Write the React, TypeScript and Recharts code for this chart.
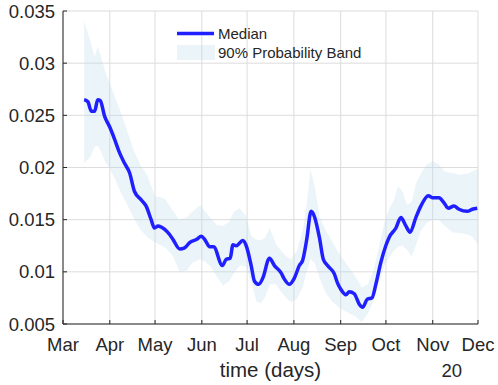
import React from 'react';
import { ComposedChart, Line, Area, XAxis, YAxis, CartesianGrid, Label } from 'recharts';

// days counted from 1 March (2020)
const monthTicks = [0, 31, 61, 92, 122, 153, 184, 214, 245, 275];
const monthLabels = ['Mar', 'Apr', 'May', 'Jun', 'Jul', 'Aug', 'Sep', 'Oct', 'Nov', 'Dec'];
const yTicks = [0.005, 0.01, 0.015, 0.02, 0.025, 0.03, 0.035];

const medianDays = [
  14, 16.5, 18.7, 21, 23, 24.7, 27.6, 30.9, 34.2, 37.5, 40.8, 44.1, 47.4, 51.8, 55.1, 58.4,
  60.6, 63, 67.2, 70.5, 72.9, 77.3, 80.6, 83.9, 88.4, 91.7, 93.9, 97.2, 99.8, 105.6, 108.2,
  110.8, 112.6, 114.8, 119.2, 121.4, 124.7, 126.9, 129.7, 132.4, 136.8, 140.1, 144.5, 146.7,
  150, 153.3, 156.6, 158.8, 161.5, 164.4, 166.6, 169.9, 172.5, 175.3, 179.8, 182, 184.2,
  187.5, 189.7, 193, 196.3, 198.5, 201.8, 204.7, 207.3, 210.6, 213.9, 216.1, 220.6, 223.9,
  227.2, 230, 233.8, 237.1, 242.1, 244.7, 249.2, 252.5, 255.3, 259.1, 262.4, 267.9, 271.2, 274.5,
];
const medianValues = [
  0.0265, 0.0263, 0.0254, 0.0254, 0.0265, 0.0264, 0.0249, 0.0239, 0.0227, 0.0214, 0.0204,
  0.0195, 0.0177, 0.0169, 0.0163, 0.015, 0.0142, 0.0144, 0.0141, 0.0136, 0.0131, 0.0122,
  0.0123, 0.0128, 0.0131, 0.0134, 0.0131, 0.0124, 0.0124, 0.0106, 0.0112, 0.0113, 0.0126,
  0.0125, 0.013, 0.0125, 0.0106, 0.0091, 0.0088, 0.0094, 0.0113, 0.0106, 0.0099, 0.0093,
  0.0088, 0.0094, 0.0106, 0.0111, 0.0131, 0.0158, 0.0153, 0.0133, 0.0112, 0.0106, 0.0098,
  0.0089, 0.0083, 0.0078, 0.0081, 0.0079, 0.0069, 0.0066, 0.0074, 0.0075, 0.0088, 0.0109,
  0.0125, 0.0133, 0.0142, 0.0152, 0.0144, 0.0138, 0.0152, 0.0163, 0.0173, 0.0171, 0.0171,
  0.0166, 0.0161, 0.0163, 0.016, 0.0158, 0.016, 0.0161,
];

const bandDays = [
  14, 18, 21, 23, 25, 28, 31, 35, 39, 43, 47, 51, 56, 61, 64, 68, 73, 77, 82, 86, 91, 94, 98,
  102, 106, 110, 113, 117, 121, 125, 128, 131, 134, 137, 141, 145, 148, 151, 155, 159, 161,
  164, 167, 170, 174, 178, 182, 186, 190, 194, 198, 202, 206, 210, 213, 216, 219, 222, 225,
  228, 231, 234, 237, 241, 245, 249, 253, 258, 263, 268, 271, 275,
];
const bandUpper = [
  0.034, 0.0322, 0.0306, 0.0316, 0.0307, 0.0292, 0.0281, 0.0265, 0.025, 0.0233, 0.0216,
  0.0203, 0.0192, 0.0172, 0.0172, 0.0169, 0.0158, 0.015, 0.0152, 0.0158, 0.0164, 0.0158,
  0.0151, 0.0145, 0.0144, 0.0148, 0.0157, 0.0161, 0.0154, 0.0134, 0.0131, 0.013, 0.0133,
  0.0142, 0.0127, 0.0119, 0.0115, 0.0112, 0.012, 0.014, 0.016, 0.0198, 0.018, 0.0153, 0.014,
  0.013, 0.012, 0.0111, 0.0103, 0.0095, 0.0085, 0.0088, 0.0102, 0.0128, 0.0147, 0.016,
  0.0168, 0.0182, 0.0177, 0.0164, 0.0167, 0.0185, 0.0194, 0.0203, 0.0206, 0.0203, 0.0196,
  0.0195, 0.0193, 0.0194, 0.0196, 0.0199,
];
const bandLower = [
  0.0204, 0.021, 0.022, 0.0221, 0.0216, 0.0205, 0.0199, 0.0187, 0.0174, 0.0163, 0.0151,
  0.0141, 0.0133, 0.0128, 0.0126, 0.0123, 0.0115, 0.01, 0.0101, 0.0109, 0.0112, 0.011,
  0.0105, 0.0095, 0.0087, 0.0091, 0.0098, 0.0106, 0.0105, 0.009, 0.0072, 0.007, 0.0076,
  0.0088, 0.0088, 0.008, 0.0075, 0.0071, 0.0074, 0.0086, 0.0098, 0.0112, 0.0108, 0.0094,
  0.008, 0.0072, 0.0067, 0.0063, 0.006, 0.0057, 0.0052, 0.006, 0.0073, 0.0093, 0.0106,
  0.0113, 0.012, 0.0124, 0.0125, 0.0121, 0.0115, 0.0126, 0.0139, 0.0147, 0.015, 0.015,
  0.0144, 0.0138, 0.0137, 0.0136, 0.0134, 0.0126,
];

const medianData = medianDays.map((day, i) => ({ day, value: medianValues[i] }));
const bandData = bandDays.map((day, i) => ({ day, range: [bandLower[i], bandUpper[i]] }));

const FONT = '"Liberation Sans", Arial, Helvetica, sans-serif';
const INK = '#262626';
const LINE_BLUE = '#1f1fff';
const BAND_FILL = '#b9dcea';

const LegendBox = () => (
  <div
    style={{
      position: 'absolute',
      left: 176,
      top: 24,
      fontFamily: FONT,
      fontSize: 15,
      color: INK,
      lineHeight: '19px',
    }}
  >
    <div style={{ display: 'flex', alignItems: 'center' }}>
      <svg width={42} height={19}>
        <line x1={1} x2={38} y1={9.5} y2={9.5} stroke={LINE_BLUE} strokeWidth={3.5} />
      </svg>
      <span>Median</span>
    </div>
    <div style={{ display: 'flex', alignItems: 'center' }}>
      <svg width={42} height={19}>
        <rect x={1} y={2} width={38} height={15} fill={BAND_FILL} fillOpacity={0.3} />
      </svg>
      <span>90% Probability Band</span>
    </div>
  </div>
);

export default function App() {
  return (
    <div style={{ position: 'fixed', left: 0, top: 0, width: 498, height: 385, background: '#fff' }}>
      <ComposedChart
        width={498}
        height={385}
        margin={{ top: 11, right: 20, left: 8, bottom: 0 }}
        style={{ fontFamily: FONT }}
      >
        <CartesianGrid stroke="#dcdcdc" strokeWidth={1} />
        <XAxis
          type="number"
          dataKey="day"
          domain={[0, 275]}
          ticks={monthTicks}
          interval={0}
          allowDataOverflow
          height={61}
          tickSize={-4}
          tickMargin={18}
          tickFormatter={(v: number) => monthLabels[monthTicks.indexOf(v)]}
          tick={{ fill: INK, fontSize: 18.5 }}
          axisLine={{ stroke: INK }}
          tickLine={{ stroke: INK }}
        >
          <Label value="time (days)" position="insideBottom" offset={8} fill={INK} fontSize={20.5} />
          <Label value="20" position={{ x: 399, y: 53 }} fill={INK} fontSize={18.5} />
        </XAxis>
        <YAxis
          type="number"
          domain={[0.005, 0.035]}
          ticks={yTicks}
          interval={0}
          allowDataOverflow
          width={55}
          tickSize={-4}
          tickMargin={12}
          tick={{ fill: INK, fontSize: 18.5 }}
          axisLine={{ stroke: INK }}
          tickLine={{ stroke: INK }}
        />
        <Area
          data={bandData}
          dataKey="range"
          type="linear"
          stroke="none"
          fill={BAND_FILL}
          fillOpacity={0.3}
          isAnimationActive={false}
          activeDot={false}
        />
        <Line
          data={medianData}
          dataKey="value"
          type="monotone"
          stroke={LINE_BLUE}
          strokeWidth={3.5}
          dot={false}
          activeDot={false}
          isAnimationActive={false}
        />
      </ComposedChart>
      <LegendBox />
    </div>
  );
}
